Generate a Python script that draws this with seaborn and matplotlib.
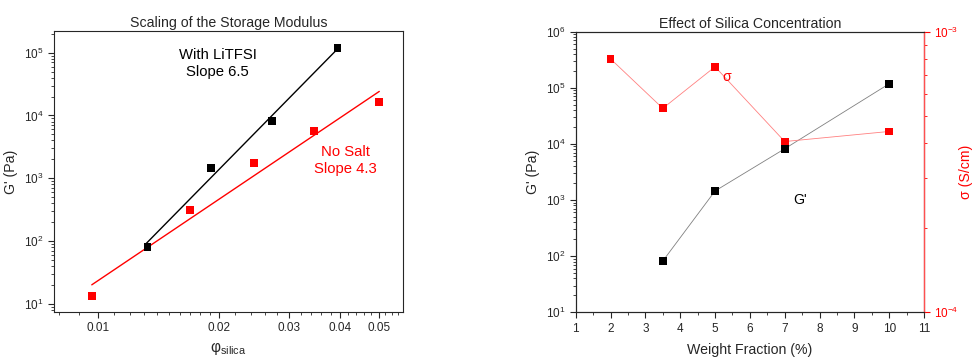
import numpy as np
import pandas as pd
import matplotlib
matplotlib.use("Agg")
import matplotlib.pyplot as plt
import matplotlib.ticker as mticker
import seaborn as sns

sns.set_style("ticks")
plt.rcParams['font.family'] = ['Liberation Sans', 'DejaVu Sans']
plt.rcParams['mathtext.fontset'] = 'custom'
plt.rcParams['mathtext.rm'] = 'Liberation Sans'

# ---- data: left panel ----
phi_litfsi = [0.0133, 0.0191, 0.0271, 0.0395]
g_litfsi = [82, 1450, 8200, 118000]
phi_nosalt = [0.00966, 0.0170, 0.0245, 0.0345, 0.0501]
g_nosalt = [13.4, 314, 1760, 5690, 16300]
fit_labels = ["With LiTFSI", "No Salt"]
fit_slopes = [6.5, 4.3]
fit_intercepts = [14.18, 9.97]          # log10 prefactor
fit_ranges = [[0.0132, 0.0395], [0.00966, 0.0502]]

# ---- data: right panel ----
wt_g = [3.5, 5, 7, 10]
g_wt = [82, 1450, 8200, 118000]
wt_sigma = [2, 3.5, 5, 7, 10]
sigma = [8.0e-4, 5.33e-4, 7.5e-4, 4.06e-4, 4.41e-4]

x_ticks_left = [0.01, 0.02, 0.03, 0.04, 0.05]
x_ticklabels_left = ["0.01", "0.02", "0.03", "0.04", "0.05"]

RED = "#ff0000"
fig = plt.figure(figsize=(9.75, 3.58), dpi=100)
ax1 = fig.add_axes([0.0554, 0.1285, 0.3579, 0.785])
ax2 = fig.add_axes([0.5905, 0.1277, 0.3572, 0.7838])

TS = 8.5
LS = 10.2

# ---- left panel ----
for xs, ys, col in [(phi_nosalt, g_nosalt, RED), (phi_litfsi, g_litfsi, "black")]:
    sns.scatterplot(x=xs, y=ys, ax=ax1, marker="s", s=32, color=col,
                    edgecolor="none", zorder=3)
fit_cols = ["black", RED]
for (lo, hi), k, b, col in zip(fit_ranges, fit_slopes, fit_intercepts, fit_cols):
    xf = np.geomspace(lo, hi, 50)
    yf = 10 ** (b + k * np.log10(xf))
    sns.lineplot(x=xf, y=yf, ax=ax1, color=col, lw=1.0, zorder=2)

ax1.set_xscale("log")
ax1.set_yscale("log")
ax1.set_xlim(0.00778, 0.0575)
ax1.set_ylim(10 ** 0.873, 10 ** 5.345)
ax1.xaxis.set_major_locator(mticker.FixedLocator(x_ticks_left))
ax1.xaxis.set_major_formatter(mticker.FixedFormatter(x_ticklabels_left))
minors = list(np.arange(0.008, 0.0201, 0.001)) + list(np.arange(0.022, 0.058, 0.002))
minors = [m for m in minors if all(abs(m - t) > 1e-5 for t in x_ticks_left)]
ax1.xaxis.set_minor_locator(mticker.FixedLocator(minors))
ax1.xaxis.set_minor_formatter(mticker.NullFormatter())
ax1.yaxis.set_major_locator(mticker.LogLocator(base=10, numticks=10))
ax1.yaxis.set_minor_locator(mticker.LogLocator(base=10, subs=np.arange(2, 10), numticks=20))
ax1.yaxis.set_minor_formatter(mticker.NullFormatter())
ax1.tick_params(which="major", direction="out", length=4, width=0.8, labelsize=TS, top=False, right=False)
ax1.tick_params(which="minor", direction="out", length=2, width=0.6, top=False, right=False)
ax1.set_title("Scaling of the Storage Modulus", fontsize=LS, pad=3)
ax1.set_ylabel("G' (Pa)", fontsize=LS, labelpad=4)
ax1.set_xlabel("φ$_{\\mathregular{silica}}$", fontsize=LS + 1, labelpad=4)
for sp in ax1.spines.values():
    sp.set_linewidth(0.8)
ax1.text(0.469, 0.885, f"{fit_labels[0]}\nSlope {fit_slopes[0]}", transform=ax1.transAxes,
         ha="center", va="center", fontsize=LS + 0.5, color="black", linespacing=1.3)
ax1.text(0.836, 0.54, f"{fit_labels[1]}\nSlope {fit_slopes[1]}", transform=ax1.transAxes,
         ha="center", va="center", fontsize=LS + 0.5, color=RED, linespacing=1.3)

# ---- right panel ----
sns.lineplot(x=wt_g, y=g_wt, ax=ax2, color="#808080", lw=0.6, sort=False, zorder=2)
sns.scatterplot(x=wt_g, y=g_wt, ax=ax2, marker="s", s=32, color="black", edgecolor="none", zorder=3)
ax2.set_yscale("log")
ax2.set_ylim(10, 1e6)
ax2.set_xlim(1, 11)
ax2.xaxis.set_major_locator(mticker.MultipleLocator(1))
ax2.xaxis.set_minor_locator(mticker.MultipleLocator(0.5))
ax2.yaxis.set_major_locator(mticker.LogLocator(base=10, numticks=10))
ax2.yaxis.set_minor_locator(mticker.LogLocator(base=10, subs=np.arange(2, 10), numticks=20))
ax2.yaxis.set_minor_formatter(mticker.NullFormatter())
ax2.tick_params(which="major", direction="out", length=4, width=0.8, labelsize=TS, top=False, right=False)
ax2.tick_params(which="minor", direction="out", length=2, width=0.6, top=False, right=False)
ax2.set_title("Effect of Silica Concentration", fontsize=LS, pad=3)
ax2.set_ylabel("G' (Pa)", fontsize=LS, labelpad=4)
ax2.set_xlabel("Weight Fraction (%)", fontsize=LS, labelpad=6)
ax2.text(7.45, 1000, "G'", fontsize=LS, color="black", ha="center", va="center")
for sp in ax2.spines.values():
    sp.set_linewidth(0.8)

ax3 = ax2.twinx()
sns.lineplot(x=wt_sigma, y=sigma, ax=ax3, color="#ff8080", lw=0.6, sort=False, zorder=2)
sns.scatterplot(x=wt_sigma, y=sigma, ax=ax3, marker="s", s=32, color=RED, edgecolor="none", zorder=3)
ax3.set_yscale("log")
ax3.set_ylim(1e-4, 1e-3)
ax3.set_xlim(1, 11)
ax3.yaxis.set_major_locator(mticker.LogLocator(base=10, numticks=10))
ax3.yaxis.set_minor_locator(mticker.LogLocator(base=10, subs=np.arange(2, 10), numticks=20))
ax3.yaxis.set_minor_formatter(mticker.NullFormatter())
ax3.tick_params(axis="y", which="major", direction="out", length=4, width=0.8,
                labelsize=TS, colors=RED)
ax3.tick_params(axis="y", which="minor", direction="out", length=2.5, width=0.6, colors=RED)
ax3.spines["right"].set_color("#ff5050")
ax3.spines["right"].set_linewidth(1.0)
ax3.spines["top"].set_linewidth(0.8)
ax3.set_ylabel("σ (S/cm)", fontsize=LS, color=RED, labelpad=0)
ax3.text(5.35, 6.9e-4, "σ", fontsize=LS, color=RED, ha="center", va="center")

fig.savefig("out.png", dpi=100)
